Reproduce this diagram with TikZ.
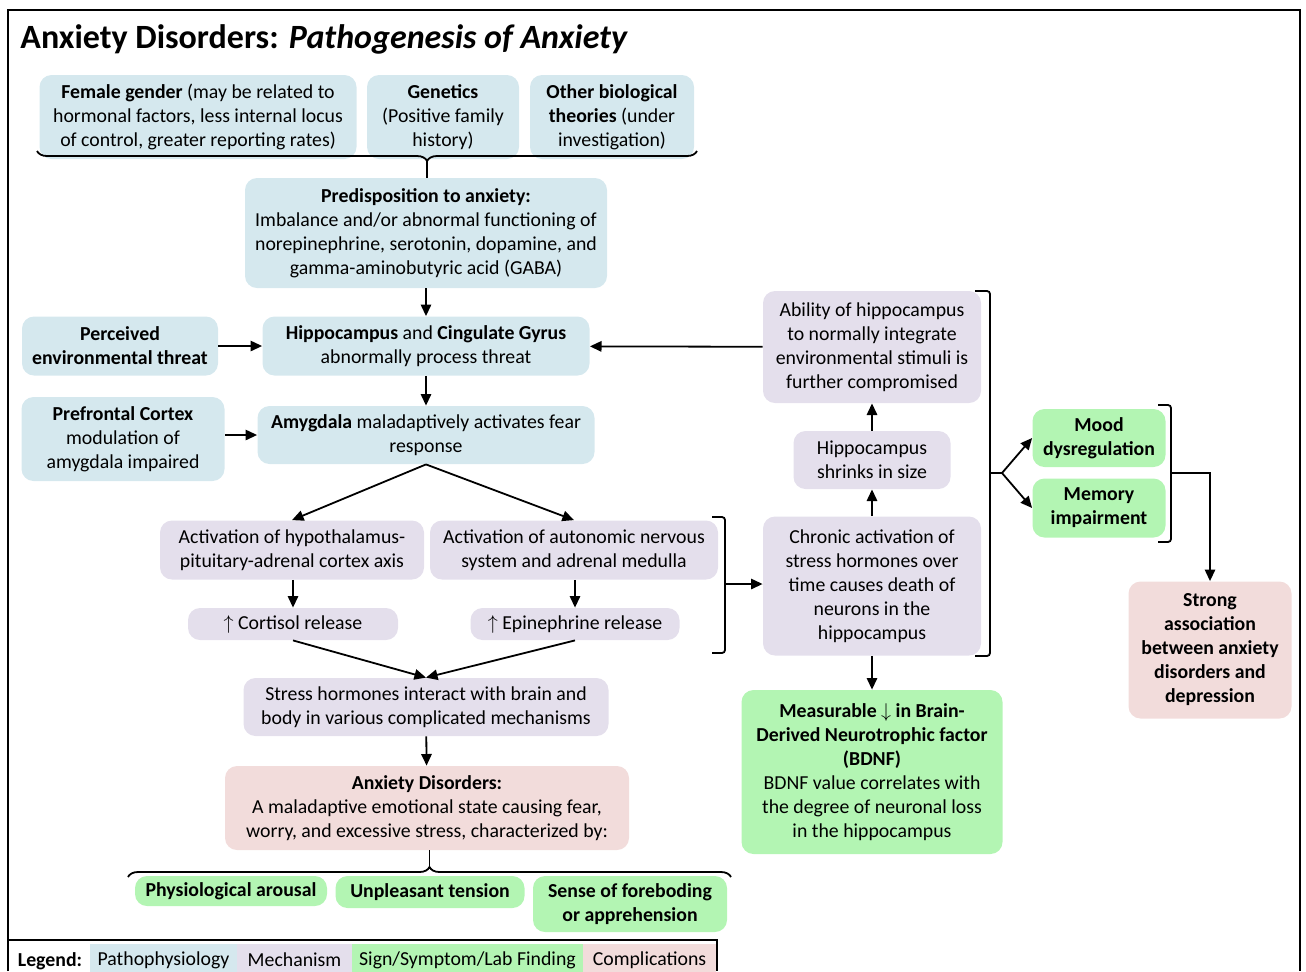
\documentclass[tikz,border=0pt]{standalone}
\usepackage{fontspec}
\setmainfont{Carlito}
\usepackage{tikz}
\usetikzlibrary{arrows.meta,decorations.pathreplacing,calc}
\definecolor{pathoblue}{RGB}{213,232,238}
\definecolor{mechpurple}{RGB}{228,223,236}
\definecolor{signgreen}{RGB}{179,245,179}
\definecolor{complpink}{RGB}{242,220,219}
\newcommand{\boxfont}{\fontsize{9.9}{12}\selectfont}
\tikzset{
  box/.style={rounded corners=6pt,align=center,inner sep=2pt},
  pathobox/.style={box,fill=pathoblue},
  mechbox/.style={box,fill=mechpurple},
  signbox/.style={box,fill=signgreen},
  compbox/.style={box,fill=complpink},
  boldtext/.style={font=\boxfont\bfseries},
  flow/.style={-{Triangle[length=5.8pt,width=5.2pt]},line width=0.9pt},
  plain/.style={line width=0.9pt},
  bracebar/.style={line width=0.9pt,rounded corners=1.5pt},
}

\begin{document}
\begin{tikzpicture}[x=0.5pt,y=-0.5pt,font=\boxfont]
\useasboundingbox (0,0) rectangle (1306,971);
% ---------- frame and title ----------
\draw[line width=0.8pt] (8,971) -- (8,10) -- (1300,10) -- (1300,971);
\node[anchor=west,inner sep=0pt,font=\fontsize{17}{20}\selectfont\bfseries] (title) at (20,39)
  {Anxiety Disorders: \textit{Pathogenesis of Anxiety}};
% ---------- predisposing factors ----------
\node[pathobox,minimum width=158.5pt,minimum height=42pt] (female) at (198,117)
  {\textbf{Female gender} (may be related to\\hormonal factors, less internal locus\\of control, greater reporting rates)};
\node[pathobox,minimum width=76pt,minimum height=42pt] (genetics) at (443,117)
  {\textbf{Genetics}\\(Positive family\\history)};
\node[pathobox,minimum width=82pt,minimum height=42pt] (otherbio) at (612,117)
  {\textbf{Other biological}\\\textbf{theories} (under\\investigation)};
\draw[plain,decorate,decoration={brace,amplitude=5pt,aspect=0.409}] (697,151) -- (37,151)
  coordinate[pos=0.409,yshift=-5pt] (toptip);
\node[pathobox,minimum width=181pt,minimum height=55pt] (predis) at (426,233)
  {\textbf{Predisposition to anxiety:}\\Imbalance and/or abnormal functioning of\\norepinephrine, serotonin, dopamine, and\\gamma-aminobutyric acid (GABA)};
\draw[plain] (toptip) -- (toptip |- predis.north);
% ---------- threat processing ----------
\node[pathobox,minimum width=163.5pt,minimum height=29.5pt] (hippo) at (426,346)
  {\textbf{Hippocampus} and \textbf{Cingulate Gyrus}\\abnormally process threat};
\node[pathobox,boldtext,minimum width=98pt,minimum height=29.5pt] (threat) at (120,346)
  {Perceived\\environmental threat};
\node[pathobox,minimum width=168.5pt,minimum height=29pt] (amyg) at (426,435)
  {\textbf{Amygdala} maladaptively activates fear\\response};
\node[pathobox,minimum width=101.5pt,minimum height=42pt] (prefront) at (123,439)
  {\textbf{Prefrontal Cortex}\\modulation of\\amygdala impaired};
\draw[flow] (predis) -- (hippo);
\draw[flow] (threat) -- (hippo);
\draw[flow] (hippo) -- (amyg);
\draw[flow] (prefront.east |- amyg) -- (amyg.west);
% ---------- stress axes ----------
\node[mechbox,minimum width=132pt,minimum height=29.5pt] (hpa) at (292,550)
  {Activation of hypothalamus-\\pituitary-adrenal cortex axis};
\node[mechbox,minimum width=144pt,minimum height=29.5pt] (ans) at (574,550)
  {Activation of autonomic nervous\\system and adrenal medulla};
\node[mechbox,minimum width=105pt,minimum height=16pt] (cortisol) at (293,624)
  {$\uparrow$ Cortisol release};
\node[mechbox,minimum width=104.5pt,minimum height=16pt] (epi) at (575,624)
  {$\uparrow$ Epinephrine release};
\node[mechbox,minimum width=182.5pt,minimum height=29pt] (stress) at (426,707)
  {Stress hormones interact with brain and\\body in various complicated mechanisms};
\draw[flow] (amyg.south) -- (hpa.north);
\draw[flow] (amyg.south) -- (ans.north);
\draw[flow] (hpa.south -| cortisol) -- (cortisol.north);
\draw[flow] (ans.south -| epi) -- (epi.north);
\draw[flow] (cortisol.south) -- (stress.north);
\draw[flow] (epi.south) -- (stress.north);
% ---------- outcome ----------
\node[compbox,minimum width=202pt,minimum height=42pt] (anxdis) at (427,808)
  {\textbf{Anxiety Disorders:}\\A maladaptive emotional state causing fear,\\worry, and excessive stress, characterized by:};
\draw[flow] (stress) -- (anxdis);
\node[signbox,boldtext,minimum width=96pt,minimum height=15pt] (arousal) at (231,891)
  {Physiological arousal};
\node[signbox,boldtext,minimum width=94.5pt,minimum height=16pt] (tension) at (430,892)
  {Unpleasant tension};
\node[signbox,boldtext,minimum width=97pt,minimum height=28pt] (forebode) at (630,904)
  {Sense of foreboding\\or apprehension};
\draw[plain,decorate,decoration={brace,amplitude=5pt}] (128,877) -- (731,877)
  coordinate[pos=0.5,yshift=5pt] (bottip);
\draw[plain] (bottip) -- (bottip |- anxdis.south);
% ---------- hippocampal damage ----------
\node[mechbox,minimum width=109pt,minimum height=56pt] (ability) at (872,347)
  {Ability of hippocampus\\to normally integrate\\environmental stimuli is\\further compromised};
\node[mechbox,minimum width=78.5pt,minimum height=29pt] (shrink) at (872,460)
  {Hippocampus\\shrinks in size};
\node[mechbox,minimum width=109pt,minimum height=69.5pt] (chronic) at (872,586)
  {Chronic activation of\\stress hormones over\\time causes death of\\neurons in the\\hippocampus};
\node[signbox,minimum width=130.5pt,minimum height=82pt] (bdnf) at (872,772)
  {\textbf{Measurable $\downarrow$ in Brain-}\\\textbf{Derived Neurotrophic factor}\\\textbf{(BDNF)}\\BDNF value correlates with\\the degree of neuronal loss\\in the hippocampus};
\draw[flow] (ability) -- (hippo);
\draw[flow] (chronic) -- (shrink);
\draw[flow] (shrink) -- (ability);
\draw[flow] (chronic) -- (bdnf);
% bracket round the two axes
\draw[bracebar] (712,517) -- (725,517) -- (725,653) -- (712,653);
\coordinate (axesmid) at (725,584);
\draw[flow] (axesmid) -- (axesmid -| chronic.west);
% ---------- consequences ----------
\node[signbox,boldtext,minimum width=66.5pt,minimum height=29pt] (mood) at (1099,438)
  {Mood\\dysregulation};
\node[signbox,boldtext,minimum width=66.5pt,minimum height=29.5pt] (memory) at (1099,508)
  {Memory\\impairment};
\node[compbox,boldtext,minimum width=81.5pt,minimum height=68.5pt] (strong) at (1210,650)
  {Strong\\association\\between anxiety\\disorders and\\depression};
\draw[bracebar] (975,291) -- (990,291) -- (990,656) -- (975,656);
\coordinate (bigmid) at (1002,473);
\draw[plain] (990,473) -- (bigmid);
\draw[flow] (bigmid) -- (mood.west);
\draw[flow] (bigmid) -- (memory.west);
\draw[bracebar] (1158,405) -- (1171,405) -- (1171,542) -- (1158,542);
\coordinate (smallmid) at (1171,473);
\draw[flow,rounded corners=0pt] (smallmid) -- (smallmid -| strong) -- (strong.north);
% ---------- legend ----------
\draw[line width=0.8pt] (8,940) -- (717,940) -- (717,971);
\node[boldtext,inner sep=0pt] (legend) at (50,961) {Legend:};
\foreach \cx/\cw/\col/\lb/\nm in {163.5/73.5/pathoblue/Pathophysiology/patho,
                                  294.5/57.5/mechpurple/Mechanism/mech,
                                  467.5/115.5/signgreen/Sign\slash Symptom\slash Lab Finding/sign,
                                  649.5/66.5/complpink/Complications/compl}{
  \node[fill=\col,minimum width=\cw pt,minimum height=16pt,inner sep=0pt] (leg-\nm) at (\cx,960) {\lb};
}
\end{tikzpicture}
\end{document}
